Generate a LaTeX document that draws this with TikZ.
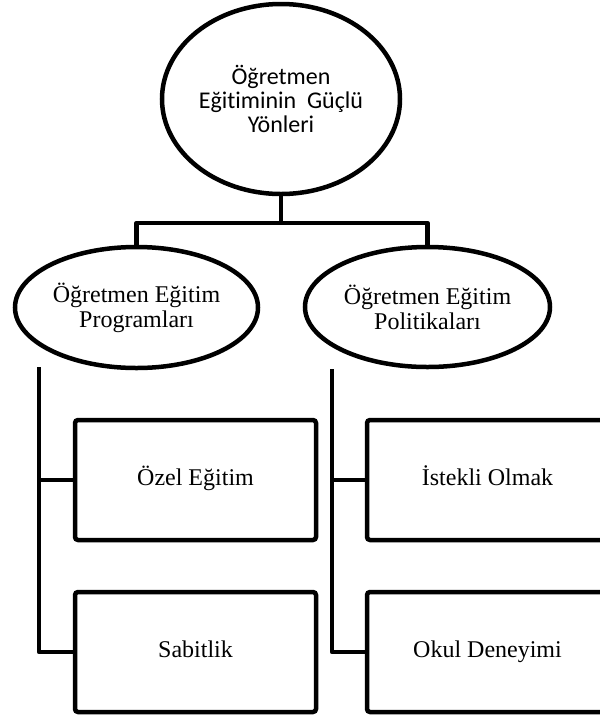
\documentclass[tikz,border=0pt]{standalone}
\usepackage{fontspec}
\setmainfont{Liberation Serif}
\newfontfamily\calib[Ligatures=NoCommon]{Carlito}
\usetikzlibrary{shapes.geometric}
\tikzset{
  oval/.style={ellipse, draw, line width=4.5pt, inner sep=0pt, align=center,
    font=\fontsize{24}{25}\selectfont},
  topoval/.style={oval, font=\calib\fontsize{24}{24}\selectfont},
  itembox/.style={rectangle, draw, line width=4.5pt, rounded corners=3pt,
    minimum width=241pt, minimum height=120pt, inner sep=0pt,
    text height=16pt, text depth=5pt,
    font=\fontsize{24}{25}\selectfont},
  conn/.style={line width=4.5pt, line join=round}
}
\begin{document}
\begin{tikzpicture}[x=1pt,y=-1pt]
\useasboundingbox (0,0) rectangle (600,716);
\clip (0,0) rectangle (600,716);
\fill[white] (0,0) rectangle (600,716);

\node[topoval, minimum width=238pt, minimum height=190pt] (top) at (281,99)
  {Öğretmen\\Eğitiminin\ \ Güçlü\\Yönleri};
\node[oval, minimum width=243pt, minimum height=121pt] (pl) at (136.5,307.5)
  {Öğretmen Eğitim\\Programları};
\node[oval, minimum width=245pt, minimum height=120pt] (pp) at (427.5,307)
  {Öğretmen Eğitim\\Politikaları};

\node[itembox] (b1) at (195.5,480) {Özel Eğitim};
\node[itembox] (b2) at (195.5,652) {Sabitlik};
\node[itembox] (b3) at (487.5,480) {İstekli Olmak};
\node[itembox] (b4) at (487.5,652) {Okul Deneyimi};

\coordinate (bar) at (281,223);
\draw[conn] (top.south) -- (bar);
\draw[conn] (pl.north) |- (bar) -| (pp.north);

\coordinate (lt) at (39,367);
\coordinate (rt) at (332,369);
\draw[conn] (lt) |- (b2.west);
\draw[conn] (lt |- b1.west) -- (b1.west);
\draw[conn] (rt) |- (b4.west);
\draw[conn] (rt |- b3.west) -- (b3.west);
\end{tikzpicture}
\end{document}
